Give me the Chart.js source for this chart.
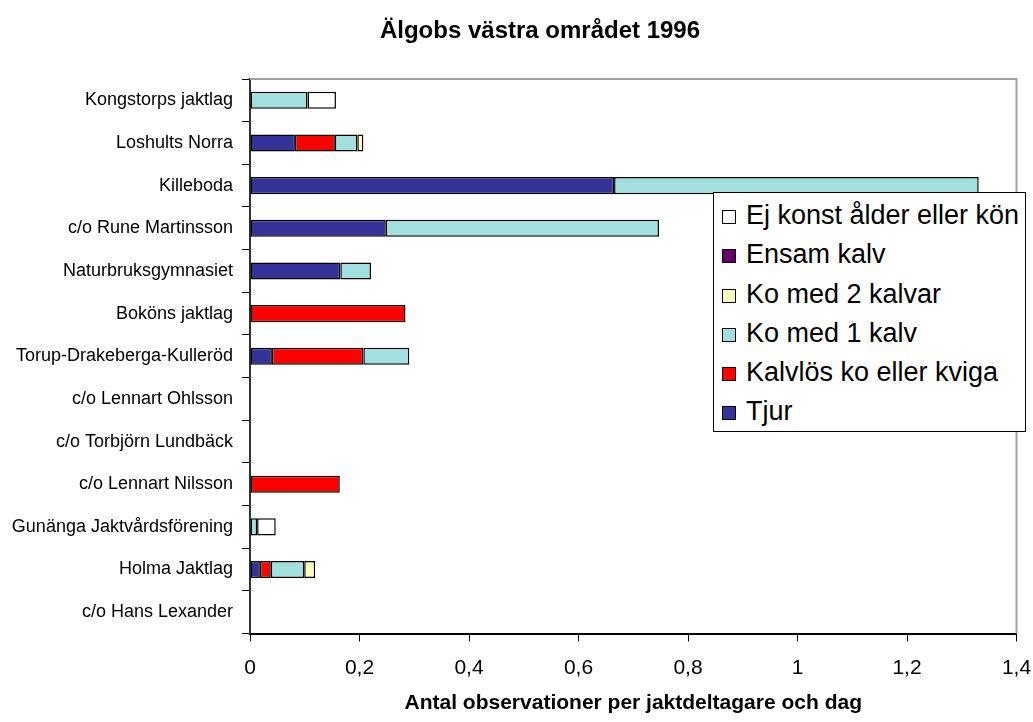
<!DOCTYPE html>
<html>
<head>
<meta charset="utf-8">
<script src="https://cdn.jsdelivr.net/npm/chart.js@4"></script>
<style>
    body { margin: 0; background: #fff; }
    #wrap { position: relative; width: 1033px; height: 722px; }
    #legend {
        position: absolute;
        left: 713px; top: 192px;
        width: 313px; height: 240px;
        border: 1px solid #000;
        background: #fff;
        font-family: "Liberation Sans", Arial, sans-serif;
        font-size: 27px;
        line-height: 39.3px;
        padding-top: 3px;
        box-sizing: border-box;
    }
    #legend div { white-space: nowrap; padding-left: 8px; }
    #legend span.box {
        display: inline-block;
        width: 12px; height: 12px;
        border: 1px solid #000;
        margin-right: 10px;
        vertical-align: 0px;
    }
</style>
</head>
<body>
<div id="wrap">
    <canvas id="obsChart" width="1033" height="722"></canvas>
    <div id="legend"></div>
</div>
<script>
const categories = [
    "Kongstorps jaktlag",
    "Loshults Norra",
    "Killeboda",
    "c/o Rune Martinsson",
    "Naturbruksgymnasiet",
    "Boköns jaktlag",
    "Torup-Drakeberga-Kulleröd",
    "c/o Lennart Ohlsson",
    "c/o Torbjörn Lundbäck",
    "c/o Lennart Nilsson",
    "Gunänga Jaktvårdsförening",
    "Holma Jaktlag",
    "c/o Hans Lexander"
];

const tjur          = [0, 0.082, 0.665, 0.248, 0.165, 0, 0.040, 0, 0, 0, 0, 0.018, 0];
const kalvlosKo     = [0, 0.073, 0, 0, 0, 0.284, 0.167, 0, 0, 0.164, 0, 0.020, 0];
const koMed1Kalv    = [0.105, 0.041, 0.666, 0.499, 0.056, 0, 0.084, 0, 0, 0, 0.013, 0.061, 0];
const koMed2Kalvar  = [0, 0.011, 0, 0, 0, 0, 0, 0, 0, 0, 0, 0.020, 0];
const ensamKalv     = [0, 0, 0, 0, 0, 0, 0, 0, 0, 0, 0, 0, 0];
const ejKonst       = [0.052, 0, 0, 0, 0, 0, 0, 0, 0, 0, 0.034, 0, 0];

const xTicks = [0, 0.2, 0.4, 0.6, 0.8, 1, 1.2, 1.4];

const seriesNames  = ["Tjur", "Kalvlös ko eller kviga", "Ko med 1 kalv", "Ko med 2 kalvar", "Ensam kalv", "Ej konst ålder eller kön"];
const seriesValues = [tjur, kalvlosKo, koMed1Kalv, koMed2Kalvar, ensamKalv, ejKonst];
const seriesColors = ["#333399", "#FF0000", "#A2E0E0", "#FFFFC0", "#660066", "#FFFFFF"];

const chartTitle = "Älgobs västra området 1996";

const FONT = "'Liberation Sans', Arial, sans-serif";

// grey plot frame on top and right like the excel plot area,
// plus the title (excel puts it a bit right of the page centre)
const frame = {
    id: "frame",
    afterDatasetsDraw(chart) {
        const a = chart.chartArea;
        const c = chart.ctx;
        c.save();
        c.strokeStyle = "#a0a0a0";
        c.lineWidth = 2;
        c.beginPath();
        c.moveTo(a.left, a.top);
        c.lineTo(a.right, a.top);
        c.lineTo(a.right, a.bottom);
        c.stroke();

        c.fillStyle = "#000";
        c.font = "bold 24px " + FONT;
        c.textAlign = "center";
        c.textBaseline = "middle";
        c.fillText(chartTitle, 540, 31);
        c.restore();
    }
};

const ctx = document.getElementById("obsChart").getContext("2d");

const chart = new Chart(ctx, {
    type: "bar",
    data: {
        labels: categories,
        datasets: seriesNames.map((name, i) => ({
            label: name,
            data: seriesValues[i],
            backgroundColor: seriesColors[i],
            borderColor: "#000",
            borderWidth: 1.5,
            borderSkipped: false,
            categoryPercentage: 1,
            barPercentage: 0.4
        }))
    },
    options: {
        indexAxis: "y",
        responsive: false,
        animation: false,
        layout: { padding: { top: 79, right: 16.5 } },
        plugins: {
            legend: { display: false },
            tooltip: { enabled: false },
            title: { display: false }
        },
        scales: {
            x: {
                stacked: true,
                min: 0,
                max: 1.4,
                afterBuildTicks: s => { s.ticks = xTicks.map(v => ({ value: v })); },
                afterFit: s => {
                    s.height = 88.5;
                    s.paddingLeft = 0;
                    s.paddingRight = 0;
                },
                ticks: {
                    color: "#000",
                    padding: 14,
                    font: { family: FONT, size: 21 },
                    callback: v => String(v).replace(".", ",")
                },
                grid: { drawOnChartArea: false, tickLength: 8, tickColor: "#000" },
                border: { color: "#000", width: 2 },
                title: {
                    display: true,
                    text: "Antal observationer per jaktdeltagare och dag",
                    color: "#000",
                    font: { family: FONT, size: 21, weight: "bold" },
                    padding: { top: 0, bottom: 6.4 }
                }
            },
            y: {
                stacked: true,
                afterFit: s => { s.width = 250; },
                ticks: {
                    color: "#000",
                    padding: 9,
                    font: { family: FONT, size: 18 }
                },
                grid: { drawOnChartArea: false, offset: true, tickLength: 8, tickColor: "#000" },
                border: { color: "#333", width: 2 }
            }
        }
    },
    plugins: [frame]
});

// legend box inside the plot, last series on top
const legendEl = document.getElementById("legend");
chart.data.datasets.slice().reverse().forEach(ds => {
    const row = document.createElement("div");
    const box = document.createElement("span");
    box.className = "box";
    box.style.background = ds.backgroundColor;
    row.appendChild(box);
    row.appendChild(document.createTextNode(ds.label));
    legendEl.appendChild(row);
});
</script>
</body>
</html>
